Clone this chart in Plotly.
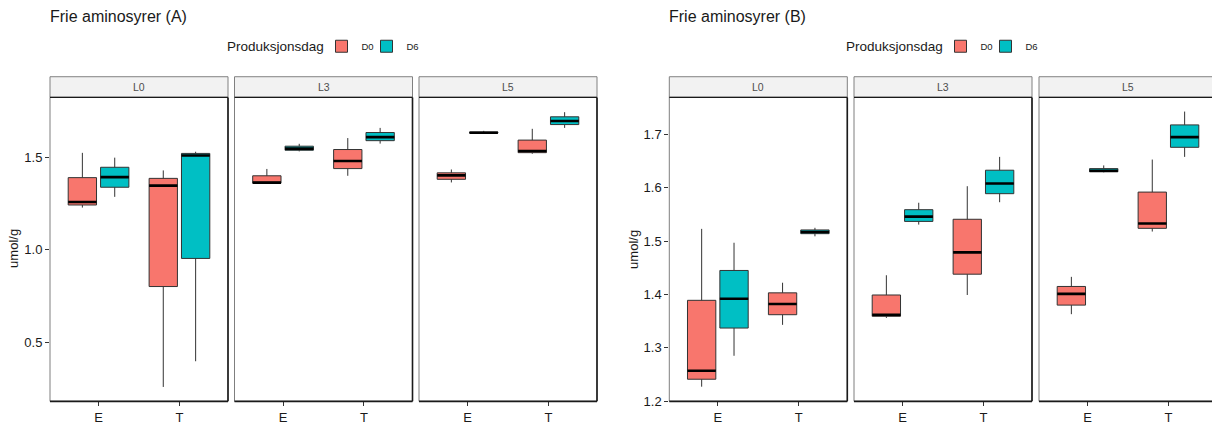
import plotly.graph_objects as go

# ---------------- data ----------------
facets = ["L0", "L3", "L5"]
categories = ["E", "T"]
groups = ["D0", "D6"]
group_colors = ["#F8766D", "#00BFC4"]

# Chart A  (rows: facets L0, L3, L5 ; cols: categories E, T)
a_d0_low = [[1.227, 0.257], [1.356, 1.399], [1.363, 1.518]]
a_d0_q1 = [[1.241, 0.800], [1.359, 1.438], [1.380, 1.524]]
a_d0_med = [[1.257, 1.346], [1.362, 1.479], [1.401, 1.533]]
a_d0_q3 = [[1.389, 1.385], [1.399, 1.541], [1.415, 1.592]]
a_d0_up = [[1.523, 1.428], [1.436, 1.603], [1.433, 1.653]]

a_d6_low = [[1.285, 0.396], [1.531, 1.573], [1.629, 1.658]]
a_d6_q1 = [[1.337, 0.952], [1.537, 1.589], [1.630, 1.676]]
a_d6_med = [[1.392, 1.509], [1.546, 1.608], [1.632, 1.695]]
a_d6_q3 = [[1.445, 1.520], [1.559, 1.633], [1.636, 1.718]]
a_d6_up = [[1.497, 1.529], [1.572, 1.658], [1.642, 1.743]]

# Chart B
b_d0_low = [[1.227, 1.343], [1.356, 1.399], [1.363, 1.518]]
b_d0_q1 = [[1.241, 1.362], [1.359, 1.438], [1.380, 1.524]]
b_d0_med = [[1.257, 1.382], [1.362, 1.479], [1.401, 1.533]]
b_d0_q3 = [[1.389, 1.403], [1.399, 1.541], [1.415, 1.592]]
b_d0_up = [[1.523, 1.422], [1.436, 1.603], [1.433, 1.653]]

b_d6_low = [[1.285, 1.509], [1.531, 1.573], [1.629, 1.658]]
b_d6_q1 = [[1.337, 1.514], [1.537, 1.589], [1.630, 1.676]]
b_d6_med = [[1.392, 1.517], [1.546, 1.608], [1.632, 1.695]]
b_d6_q3 = [[1.445, 1.521], [1.559, 1.633], [1.636, 1.718]]
b_d6_up = [[1.497, 1.525], [1.572, 1.658], [1.642, 1.743]]

a_yticks = [0.5, 1.0, 1.5]
b_yticks = [1.2, 1.3, 1.4, 1.5, 1.6, 1.7]

# ---------------- layout constants ----------------
W, H = 1212, 430
FONT = "Arial, Liberation Sans, sans-serif"
PANEL_W = 178
PANEL_TOP, PANEL_BOT = 99, 408
STRIP_TOP = 78
XRANGE0, XSPAN = 0.4, 2.2
DODGE = 0.2
BOXW = 0.35

charts = [
    dict(title="Frie aminosyrer (A)", lefts=[50, 234.5, 419], yrange=[0.179, 1.823],
         yticks=a_yticks, legends=["legend", "legend2"], leg_icon_cx=[341.5, 386.5],
         ytitle_x=14, leg_title_right=326,
         stats=[[a_d0_low, a_d0_q1, a_d0_med, a_d0_q3, a_d0_up],
                [a_d6_low, a_d6_q1, a_d6_med, a_d6_q3, a_d6_up]]),
    dict(title="Frie aminosyrer (B)", lefts=[669.3, 854, 1039], yrange=[1.1995, 1.7696],
         yticks=b_yticks, legends=["legend3", "legend4"], leg_icon_cx=[960.5, 1005.5],
         ytitle_x=634, leg_title_right=945,
         stats=[[b_d0_low, b_d0_q1, b_d0_med, b_d0_q3, b_d0_up],
                [b_d6_low, b_d6_q1, b_d6_med, b_d6_q3, b_d6_up]]),
]

fig = go.Figure()
layout = dict(
    width=W, height=H, margin=dict(l=0, r=0, t=0, b=0),
    paper_bgcolor="white", plot_bgcolor="white",
    font=dict(family=FONT, color="#1a1a1a"),
    boxmode="overlay", showlegend=True,
)
shapes, annotations = [], []

ax = 0
for ci, ch in enumerate(charts):
    for fi, fac in enumerate(facets):
        ax += 1
        left = ch["lefts"][fi]
        right = min(left + PANEL_W, W)
        vis = right - left
        xr = [XRANGE0, XRANGE0 + XSPAN * vis / PANEL_W]
        sfx = "" if ax == 1 else str(ax)
        layout["xaxis" + sfx] = dict(
            domain=[left / W, right / W], range=xr, anchor="y" + sfx,
            tickvals=[1, 2], ticktext=categories, ticks="outside", ticklen=4,
            tickcolor="#333333", showgrid=False, zeroline=False, showline=False,
            tickfont=dict(size=13, color="#1a1a1a", family=FONT), fixedrange=True,
        )
        layout["yaxis" + sfx] = dict(
            domain=[1 - PANEL_BOT / H, 1 - PANEL_TOP / H], range=ch["yrange"],
            anchor="x" + sfx, tickvals=ch["yticks"], tickformat=".1f",
            ticks="outside" if fi == 0 else "", ticklen=4, tickcolor="#333333",
            showticklabels=(fi == 0), showgrid=False, zeroline=False, showline=False,
            tickfont=dict(size=13, color="#1a1a1a", family=FONT), fixedrange=True,
        )
        for gi, grp in enumerate(groups):
            low, q1, med, q3, up = ch["stats"][gi]
            off = -DODGE if gi == 0 else DODGE
            xs = [k + 1 + off for k in range(len(categories))]
            fig.add_trace(go.Box(
                x=xs, lowerfence=low[fi], q1=q1[fi], median=med[fi], q3=q3[fi],
                upperfence=up[fi], width=BOXW, whiskerwidth=0,
                fillcolor=group_colors[gi], line=dict(color="#333333", width=1),
                boxpoints=False, name=grp, legend=ch["legends"][gi],
                showlegend=(fi == 0), xaxis="x" + sfx, yaxis="y" + sfx,
            ))
            mx, my = [], []
            for x, m in zip(xs, med[fi]):
                mx += [x - BOXW / 2, x + BOXW / 2, None]
                my += [m, m, None]
            fig.add_trace(go.Scatter(
                x=mx, y=my, mode="lines", line=dict(color="black", width=2.6),
                showlegend=False, hoverinfo="skip", xaxis="x" + sfx, yaxis="y" + sfx,
            ))
        # strip
        shapes.append(dict(type="rect", xref="paper", yref="paper",
                           x0=left / W, x1=(left + PANEL_W) / W,
                           y0=1 - PANEL_TOP / H, y1=1 - STRIP_TOP / H,
                           fillcolor="#F2F2F2", line=dict(color="#808080", width=1), layer="below"))
        annotations.append(dict(text=fac, xref="paper", yref="paper",
                                x=(left + PANEL_W / 2) / W, y=1 - (STRIP_TOP + PANEL_TOP) / 2 / H,
                                showarrow=False, font=dict(size=10.5, color="#4d4d4d", family=FONT),
                                xanchor="center", yanchor="middle"))
        # panel border
        shapes.append(dict(type="rect", xref="paper", yref="paper",
                           x0=left / W, x1=(left + PANEL_W) / W,
                           y0=1 - PANEL_BOT / H, y1=1 - PANEL_TOP / H,
                           line=dict(color="#7f7f7f", width=1), layer="above"))
        shapes.append(dict(type="line", xref="paper", yref="paper",
                           x0=left / W, x1=(left + PANEL_W) / W,
                           y0=1 - PANEL_BOT / H, y1=1 - PANEL_BOT / H,
                           line=dict(color="#1a1a1a", width=1.6), layer="above"))
        shapes.append(dict(type="line", xref="paper", yref="paper",
                           x0=(left + PANEL_W) / W, x1=(left + PANEL_W) / W,
                           y0=1 - PANEL_BOT / H, y1=1 - PANEL_TOP / H,
                           line=dict(color="#1a1a1a", width=1.6), layer="above"))
        shapes.append(dict(type="line", xref="paper", yref="paper",
                           x0=left / W, x1=(left + PANEL_W) / W,
                           y0=1 - PANEL_TOP / H, y1=1 - PANEL_TOP / H,
                           line=dict(color="#1a1a1a", width=1.4), layer="above"))

    # chart title
    annotations.append(dict(text=ch["title"], xref="paper", yref="paper",
                            x=(ch["lefts"][0] - 2) / W, y=1 - 17 / H, xanchor="left", yanchor="middle",
                            showarrow=False, font=dict(size=16, color="#1a1a1a", family=FONT)))
    # y title
    annotations.append(dict(text="umol/g", xref="paper", yref="paper",
                            x=ch["ytitle_x"] / W, y=1 - 253 / H, textangle=-90,
                            xanchor="center", yanchor="middle", showarrow=False,
                            font=dict(size=13, color="#1a1a1a", family=FONT)))
    # legend title
    annotations.append(dict(text="Produksjonsdag", xref="paper", yref="paper",
                            x=ch["leg_title_right"] / W, y=1 - 47 / H, xanchor="right",
                            yanchor="middle", showarrow=False,
                            font=dict(size=13.5, color="#1a1a1a", family=FONT)))

leg_common = dict(orientation="h", xanchor="left", yanchor="middle",
                  y=1 - 47 / H, bgcolor="rgba(0,0,0,0)",
                  font=dict(size=9.5, color="#1a1a1a", family=FONT),
                  itemwidth=30, tracegroupgap=0)
for ch in charts:
    for lg, cx in zip(ch["legends"], ch["leg_icon_cx"]):
        layout[lg] = dict(leg_common, x=(cx - 20) / W)
layout["shapes"] = shapes
layout["annotations"] = annotations
fig.update_layout(**layout)

fig.write_html("out.html")
